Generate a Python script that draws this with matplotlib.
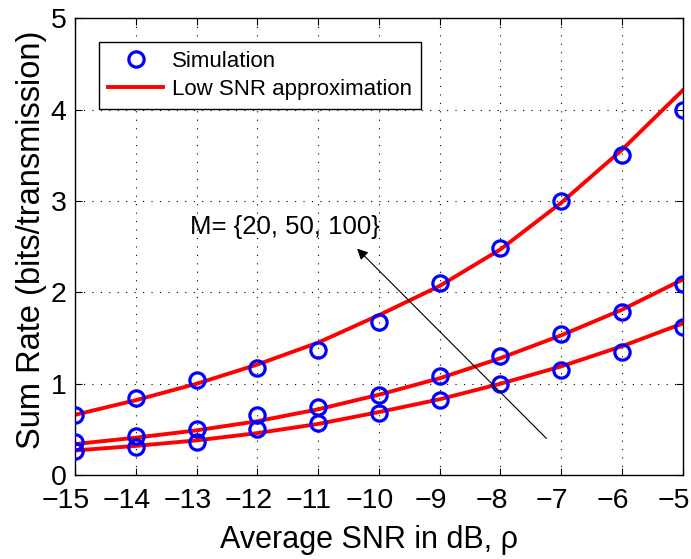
import matplotlib.pyplot as plt
import matplotlib.transforms as mtransforms
import numpy as np

plt.rcParams['font.family'] = ['Liberation Sans', 'DejaVu Sans']

snr_db = [-15, -14, -13, -12, -11, -10, -9, -8, -7, -6, -5]

# simulation points, M = 100, 50, 20
sim_100 = [0.66, 0.84, 1.04, 1.17, 1.37, 1.68, 2.10, 2.49, 3.00, 3.50, 4.00]
sim_50 = [0.36, 0.43, 0.50, 0.66, 0.75, 0.88, 1.08, 1.30, 1.54, 1.78, 2.09]
sim_20 = [0.26, 0.31, 0.36, 0.51, 0.57, 0.68, 0.82, 1.00, 1.15, 1.35, 1.62]

# low SNR approximation
approx_100 = [0.66, 0.82, 1.00, 1.21, 1.45, 1.75, 2.07, 2.47, 2.98, 3.56, 4.21]
approx_50 = [0.34, 0.41, 0.49, 0.59, 0.72, 0.88, 1.06, 1.28, 1.53, 1.81, 2.14]
approx_20 = [0.27, 0.32, 0.38, 0.46, 0.56, 0.69, 0.83, 1.00, 1.19, 1.41, 1.66]

fig = plt.figure(figsize=(6.91, 5.59), dpi=100)
ax = fig.add_axes([0.1085, 0.150, 0.8795, 0.8175])

first = True
for sim, approx in [(sim_100, approx_100), (sim_50, approx_50), (sim_20, approx_20)]:
    ax.plot(snr_db, sim, 'o', color='#0000ff', markerfacecolor='none',
            markersize=11, markeredgewidth=2.3,
            label='Simulation' if first else None, zorder=3)
    ax.plot(snr_db, approx, '-', color='#ff0000', linewidth=2.8,
            label='Low SNR approximation' if first else None, zorder=2)
    first = False

ax.annotate('', xy=(-10.39, 2.50), xytext=(-7.21, 0.38),
            arrowprops=dict(arrowstyle='-|>', color='black', lw=0.8,
                            mutation_scale=16))
ax.text(-13.1, 2.71, 'M= {20, 50, 100}', fontsize=18.5, va='center', ha='left')

ax.set_xlim(-15, -5)
ax.set_ylim(0, 5)
ax.set_xticks(np.arange(-15, -4, 1))
ax.set_yticks(np.arange(0, 6, 1))
ax.grid(True, linestyle=(0, (1, 6.6)), color='black', linewidth=0.8)
ax.tick_params(direction='in', labelsize=20.5, length=5, top=True, right=True)
ax.tick_params(axis='x', pad=9)
ax.tick_params(axis='y', pad=6)
for s in ax.spines.values():
    s.set_linewidth(1.0)

# labels sit a little left of their ticks, like the original export
shift = mtransforms.ScaledTranslation(-9 / 100, 0, fig.dpi_scale_trans)
for lab in ax.get_xticklabels():
    lab.set_transform(lab.get_transform() + shift)

ax.set_xlabel('Average SNR in dB, \u03c1', fontsize=22, labelpad=8)
ax.set_ylabel('Sum Rate (bits/transmission)', fontsize=23.5, labelpad=3)
ax.xaxis.label.set_x(0.5 - 10 / 607)
ax.yaxis.label.set_y(0.5 + 7 / 457)

handles, labels = ax.get_legend_handles_labels()
leg = ax.legend(handles, labels, loc='upper left', fontsize=16, fancybox=False,
                edgecolor='black', framealpha=1, borderaxespad=1.08,
                borderpad=0.4, labelspacing=0.3, handlelength=2.5,
                handletextpad=0.4)
leg.get_frame().set_linewidth(1.0)

fig.savefig('out.png', dpi=100)
